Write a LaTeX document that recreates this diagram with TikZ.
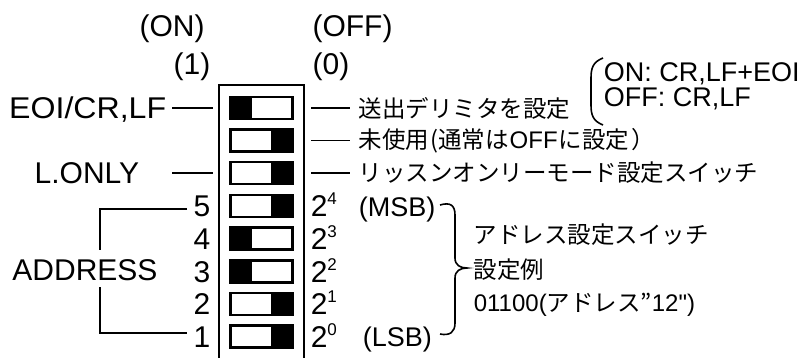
\documentclass[tikz,border=0pt]{standalone}
\usepackage{fontspec}
\setmainfont{Liberation Sans}
\newfontfamily\jp{Noto Sans CJK JP}
\newcommand\latn[1]{{\fontspec{Liberation Sans}\fontsize{24}{26}\selectfont #1}}
\begin{document}
\begin{tikzpicture}[x=1pt,y=-1pt,line width=1.6pt,
  lbl/.style={inner sep=0pt,font=\fontsize{30}{32}\selectfont},
  slbl/.style={inner sep=0pt,font=\fontsize{27}{29}\selectfont},
  jlbl/.style={inner sep=0pt,anchor=west,font=\fontsize{23.5}{26}\selectfont\jp},
  sw/.style={draw,minimum width=61pt,minimum height=21pt,inner sep=0pt},
  conn/.style={line width=1.6pt}]
\useasboundingbox (0,0) rectangle (800,357);
% outer frame
\draw (219,362) -- (219,85) -- (304,85) -- (304,362);
% headings
\node[lbl] (on) at (172,28.5) {(ON)};
\node[lbl] (off) at (352.5,28.5) {(OFF)};
\node[lbl] (one) at (192,66.5) {(1)};
\node[lbl] (zero) at (331,66.5) {(0)};
% switches
\foreach \n/\y in {1/108,2/140.5,3/173,4/206,5/238.5,6/271.5,7/304,8/336.5}{
  \node[sw] (s\n) at (261.5,\y) {};
}
\def\onsw#1{\fill (#1.north west) rectangle ([xshift=22pt]#1.south west);\draw (#1.north west) rectangle (#1.south east);}
\def\offsw#1{\fill ([xshift=-22pt]#1.north east) rectangle (#1.south east);\draw (#1.north west) rectangle (#1.south east);}
\onsw{s1}\offsw{s2}\offsw{s3}\offsw{s4}\onsw{s5}\onsw{s6}\offsw{s7}\offsw{s8}
% left labels
\node[lbl,anchor=base east] (eoi) at (167,118.7) {\scalebox{1.07}[1]{EOI/CR,LF}};
\node[lbl,anchor=base east] (lonly) at (140,183.7) {L.ONLY};
\coordinate (eoiL) at (172,108); \coordinate (eoiR) at (213,108);
\coordinate (loL) at (172,173); \coordinate (loR) at (213,173);
\draw[conn] (eoiL) -- (eoiR);
\draw[conn] (loL) -- (loR);
% right labels rows 1-3
\node[jlbl] (t1) at (358,108) {送出デリミタを設定};
\node[jlbl] (t2) at (358,140.5) {未使用\hspace{1pt}(通常は\hspace{1pt}\latn{OFF}\hspace{1pt}に設定\hspace{2pt}）};
\node[jlbl] (t3) at (358,173) {リッスンオンリーモード設定スイッチ};
\foreach \n/\y in {1/108,2/140.5,3/173}{
  \coordinate (rA\n) at (311,\y); \coordinate (rB\n) at (350,\y);
  \draw[conn] (rA\n) -- (rB\n);
}
% delimiter options
\draw[conn] (603,58) .. controls (593,62) and (591,68) .. (591,78) -- (591,105) .. controls (591,115) and (593,121) .. (603,125);
\node[slbl,anchor=base west,text height=20pt,text depth=0pt] (opt1) at (603,81) {ON: CR,LF+EOI};
\node[slbl,anchor=base west,text height=19pt,text depth=0pt] (opt2) at (603,106) {OFF: CR,LF};
% address numbers and weights
\foreach \n/\y/\d/\e in {4/206/5/4,5/238.5/4/3,6/271.5/3/2,7/304/2/1,8/336.5/1/0}{
  \node[lbl,anchor=base] (d\n) at (202,\y+10.7) {\d};
  \node[lbl,anchor=base west] (w\n) at (310,\y+10.7) {2\raisebox{12pt}{\fontsize{17}{17}\selectfont \e}};
}
\node[slbl,anchor=base west] (msb) at (358,216) {(MSB)};
\node[slbl,anchor=base west] (lsb) at (362,346.5) {(LSB)};
% ADDRESS bracket
\node[lbl,anchor=base] (addr) at (85,280) {ADDRESS};
\coordinate (a5) at (187,209); \coordinate (a1) at (187,333);
\coordinate (aT) at (100,209); \coordinate (aB) at (100,333);
\coordinate (aTm) at (100,250); \coordinate (aBm) at (100,287);
\draw[conn] (a5) -- (aT) -- (aTm);
\draw[conn] (aBm) -- (aB) -- (a1);
% right brace
\draw[conn] (440,205) .. controls (450,202) and (455,205) .. (455,215) -- (455,258) .. controls (455,265) and (460,268) .. (467,268)
  .. controls (460,268) and (455,271) .. (455,278) -- (455,323) .. controls (455,332) and (450,336) .. (440,334);
\node[jlbl] (b1) at (473,235) {アドレス設定スイッチ};
\node[jlbl] (b2) at (473,270) {設定例};
\node[jlbl] (b3) at (473,305) {\latn{01100(}アドレス”\latn{12")}};
\end{tikzpicture}
\end{document}
